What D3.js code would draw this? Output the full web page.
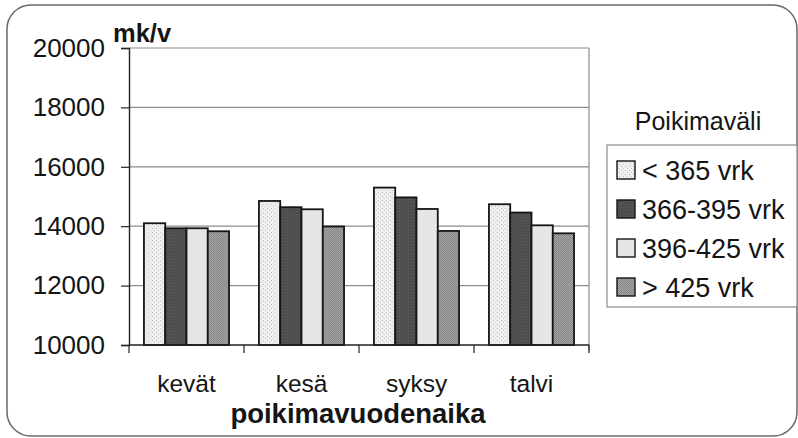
<!DOCTYPE html>
<html>
<head>
<meta charset="utf-8">
<script src="https://cdn.jsdelivr.net/npm/d3@7"></script>
<style>
  html, body { margin: 0; padding: 0; background: #fff; }
  svg { display: block; font-family: "Liberation Sans", Arial, sans-serif; }
</style>
</head>
<body>
<svg id="chart" width="798" height="438"></svg>
<script>
// Seasons of calving and calving-interval classes
const seasons = ["kevät", "kesä", "syksy", "talvi"];
const intervals = ["< 365 vrk", "366-395 vrk", "396-425 vrk", "> 425 vrk"];

// Values (mk/v) per season for each calving-interval class
const under365 = [14100, 14850, 15300, 14740];
const from366to395 = [13930, 14640, 14970, 14460];
const from396to425 = [13930, 14570, 14580, 14030];
const over425 = [13830, 13990, 13840, 13760];

const yTicks = [10000, 12000, 14000, 16000, 18000, 20000];

const seriesValues = [under365, from366to395, from396to425, over425];

const svg = d3.select("#chart");

// Patterned fills for the four classes
const defs = svg.append("defs");
const p1 = defs.append("pattern").attr("id", "fill0").attr("patternUnits", "userSpaceOnUse")
  .attr("width", 4).attr("height", 4);
p1.append("rect").attr("width", 4).attr("height", 4).attr("fill", "#efefef");
p1.append("rect").attr("x", 0).attr("y", 0).attr("width", 1).attr("height", 1).attr("fill", "#bdbdbd");
p1.append("rect").attr("x", 2).attr("y", 2).attr("width", 1).attr("height", 1).attr("fill", "#c8c8c8");

const p2 = defs.append("pattern").attr("id", "fill1").attr("patternUnits", "userSpaceOnUse")
  .attr("width", 3).attr("height", 3);
p2.append("rect").attr("width", 3).attr("height", 3).attr("fill", "#4e4e4e");
p2.append("rect").attr("x", 1).attr("y", 1).attr("width", 1).attr("height", 1).attr("fill", "#5c5c5c");

const p3 = defs.append("pattern").attr("id", "fill2").attr("patternUnits", "userSpaceOnUse")
  .attr("width", 4).attr("height", 4);
p3.append("rect").attr("width", 4).attr("height", 4).attr("fill", "#e6e6e6");

const p4 = defs.append("pattern").attr("id", "fill3").attr("patternUnits", "userSpaceOnUse")
  .attr("width", 2).attr("height", 2);
p4.append("rect").attr("width", 2).attr("height", 2).attr("fill", "#a4a4a4");
p4.append("rect").attr("x", 0).attr("y", 0).attr("width", 1).attr("height", 1).attr("fill", "#868686");
p4.append("rect").attr("x", 1).attr("y", 1).attr("width", 1).attr("height", 1).attr("fill", "#868686");

// Outer rounded frame
svg.append("rect")
  .attr("x", 7).attr("y", 5).attr("width", 790).attr("height", 431)
  .attr("rx", 24).attr("ry", 24)
  .attr("fill", "#fff").attr("stroke", "#6a6a6a").attr("stroke-width", 1.5);

// Plot area
const plot = { left: 129, right: 589, top: 48, bottom: 345 };

const x = d3.scaleBand()
  .domain(seasons)
  .range([plot.left, plot.right])
  .paddingInner(0.26)
  .paddingOuter(0.13);

const xSub = d3.scaleBand()
  .domain(d3.range(intervals.length))
  .range([0, x.bandwidth()]);

const y = d3.scaleLinear()
  .domain([yTicks[0], yTicks[yTicks.length - 1]])
  .range([plot.bottom, plot.top]);

// Horizontal gridlines
svg.append("g")
  .selectAll("line")
  .data(yTicks.slice(1))
  .join("line")
  .attr("x1", plot.left).attr("x2", plot.right)
  .attr("y1", d => y(d)).attr("y2", d => y(d))
  .attr("stroke", "#8c8c8c").attr("stroke-width", 1.2);

// Right edge of plot area
svg.append("line")
  .attr("x1", plot.right).attr("x2", plot.right)
  .attr("y1", plot.top).attr("y2", plot.bottom + 6)
  .attr("stroke", "#8c8c8c").attr("stroke-width", 1.2);

// Bars
const groups = svg.append("g")
  .selectAll("g")
  .data(seasons)
  .join("g")
  .attr("transform", s => `translate(${x(s)},0)`);

groups.selectAll("rect")
  .data((s, i) => seriesValues.map((vals, k) => ({ k, value: vals[i] })))
  .join("rect")
  .attr("x", d => xSub(d.k))
  .attr("width", xSub.bandwidth())
  .attr("y", d => y(d.value))
  .attr("height", d => y(yTicks[0]) - y(d.value))
  .attr("fill", d => `url(#fill${d.k})`)
  .attr("stroke", "#151515")
  .attr("stroke-width", 1.8);

// Y axis
const yAxis = svg.append("g")
  .attr("transform", `translate(${plot.left},0)`)
  .call(d3.axisLeft(y).tickValues(yTicks).tickFormat(d3.format("d")).tickSize(8).tickPadding(16));
yAxis.select(".domain").attr("stroke", "#222").attr("stroke-width", 1.4);
yAxis.selectAll(".tick line").attr("stroke", "#222").attr("stroke-width", 1.2);
yAxis.selectAll(".tick text")
  .attr("font-size", 26).attr("fill", "#151515")
  .attr("font-family", "'Liberation Sans', Arial, sans-serif");

// X axis with ticks on category boundaries
const xAxis = svg.append("g")
  .attr("transform", `translate(0,${plot.bottom})`)
  .call(d3.axisBottom(x).tickSize(0).tickPadding(30));
xAxis.select(".domain").remove();
xAxis.selectAll(".tick text")
  .attr("font-size", 24.5).attr("fill", "#151515")
  .attr("font-family", "'Liberation Sans', Arial, sans-serif");

const boundaries = seasons.map(s => x(s) - x.step() * x.paddingInner() / 2).concat([plot.right]);
svg.append("line")
  .attr("x1", plot.left).attr("x2", plot.right)
  .attr("y1", plot.bottom).attr("y2", plot.bottom)
  .attr("stroke", "#222").attr("stroke-width", 1.4);
svg.append("g")
  .selectAll("line")
  .data(boundaries)
  .join("line")
  .attr("x1", d => d).attr("x2", d => d)
  .attr("y1", plot.bottom).attr("y2", plot.bottom + 8)
  .attr("stroke", "#222").attr("stroke-width", 1.2);

// Unit label
svg.append("text")
  .attr("x", 113).attr("y", 42)
  .attr("font-size", 25.5).attr("font-weight", "bold").attr("fill", "#151515")
  .text("mk/v");

// Axis title
svg.append("text")
  .attr("x", 358).attr("y", 423)
  .attr("text-anchor", "middle")
  .attr("font-size", 27.5).attr("font-weight", "bold").attr("fill", "#151515")
  .text("poikimavuodenaika");

// Legend
svg.append("text")
  .attr("x", 698).attr("y", 130)
  .attr("text-anchor", "middle")
  .attr("font-size", 25).attr("fill", "#151515")
  .text("Poikimaväli");

svg.append("rect")
  .attr("x", 607).attr("y", 145).attr("width", 190).attr("height", 162)
  .attr("fill", "#fff").attr("stroke", "#8c8c8c").attr("stroke-width", 1.2);

const legendRows = svg.append("g")
  .selectAll("g")
  .data(intervals)
  .join("g")
  .attr("transform", (d, i) => `translate(617,${170 + i * 39})`);

legendRows.append("rect")
  .attr("x", 0).attr("y", -9).attr("width", 18).attr("height", 18)
  .attr("fill", (d, i) => `url(#fill${i})`)
  .attr("stroke", "#151515").attr("stroke-width", 1.4);

legendRows.append("text")
  .attr("x", 25).attr("y", 0).attr("dy", "0.36em")
  .attr("font-size", 27).attr("fill", "#151515")
  .text(d => d);
</script>
</body>
</html>
